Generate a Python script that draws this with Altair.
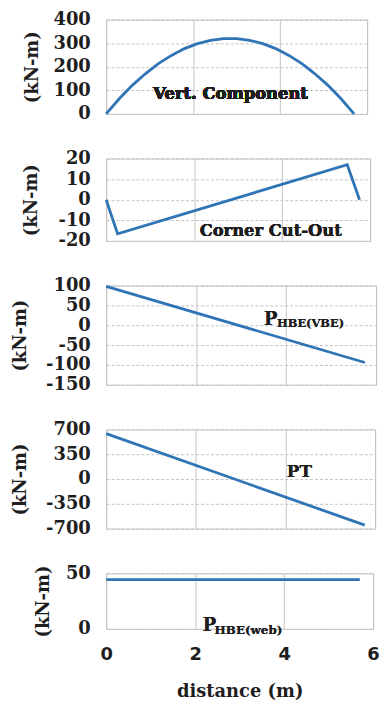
import altair as alt
import pandas as pd

# ---------------- data ----------------
vert_x = [0, 0.3, 0.6, 0.9, 1.2, 1.5, 1.8, 2.1, 2.4, 2.7, 3.0, 3.3, 3.6, 3.9, 4.2, 4.5, 4.8, 5.1, 5.4, 5.7]
vert_y = [0, 64, 121, 170, 213, 248, 277, 298, 312, 319, 319, 312, 298, 277, 248, 213, 170, 121, 64, 0]

corner_x = [0, 0.26, 5.48, 5.76]
corner_y = [0, -16.6, 17.0, 0]

vbe_x = [0, 5.75]
vbe_y = [98, -94]

pt_x = [0, 5.77]
pt_y = [640, -650]

web_x = [0, 5.7]
web_y = [44.4, 44.4]

x_ticks = [0, 2, 4, 6]
y_ticks_1 = [0, 100, 200, 300, 400]
y_ticks_2 = [-20, -10, 0, 10, 20]
y_ticks_3 = [-150, -100, -50, 0, 50, 100]
y_ticks_4 = [-700, -350, 0, 350, 700]
y_ticks_5 = [0, 50]

SERIF = "DejaVu Serif"
SANS = "DejaVu Sans"
BLUE = "#2f74b5"
TXT = "#1e1e1e"
GRID = "#c4c4c4"

HYPHEN_LABEL = "datum.value < 0 ? '-' + abs(datum.value) : '' + datum.value"


def panel(xs, ys, ydom, yvals, width, height, title_x, show_x, notes):
    df = pd.DataFrame({"x": xs, "y": ys})
    xaxis_kw = dict(
        values=x_ticks, grid=True, gridColor=GRID, gridWidth=1,
        ticks=False, domain=False, labelFlush=False, labelOverlap=False,
    )
    if show_x:
        xaxis_kw.update(
            labels=True, title="distance (m)", labelFont=SANS, labelFontSize=18,
            labelFontWeight="bold", labelColor=TXT, labelPadding=17,
            titleFont=SERIF, titleFontSize=18, titleFontWeight="bold",
            titleColor=TXT, titlePadding=19,
        )
    else:
        xaxis_kw.update(labels=False, title="")
    xaxis = alt.Axis(**xaxis_kw)
    yaxis = alt.Axis(
        values=yvals, grid=True, gridColor=GRID, gridDash=[3, 2], gridWidth=1,
        ticks=False, domain=False, labelOverlap=False, labelFlush=False,
        labelFont=SERIF, labelFontSize=18, labelFontWeight="bold",
        labelColor=TXT, labelPadding=16, labelExpr=HYPHEN_LABEL,
        title="(kN-m)", titleFont=SERIF, titleFontSize=18,
        titleFontWeight="bold", titleColor=TXT, titleAngle=270,
        titleX=title_x, titleY=height / 2, titleAlign="center",
        titleBaseline="middle",
    )
    xscale = alt.Scale(domain=[0, 6], nice=False, zero=False)
    yscale = alt.Scale(domain=ydom, nice=False, zero=False)
    line = alt.Chart(df).mark_line(color=BLUE, strokeWidth=2.8).encode(
        x=alt.X("x:Q", scale=xscale, axis=xaxis),
        y=alt.Y("y:Q", scale=yscale, axis=yaxis),
    )
    layers = [line]
    for (tx, ty, txt, size, align, dx, dy) in notes:
        layers.append(
            alt.Chart(df).mark_text(
                text=txt, font=SERIF, fontSize=size, fontWeight="bold",
                color=TXT, align=align, baseline="alphabetic", dx=dx, dy=dy,
            ).encode(
                x=alt.XDatum(tx, type="quantitative", scale=xscale, axis=xaxis),
                y=alt.YDatum(ty, type="quantitative", scale=yscale, axis=yaxis),
            )
        )
    return alt.layer(*layers).properties(width=width, height=height)


p1 = panel(vert_x, vert_y, [0, 400], y_ticks_1, 263, 95, -74, False,
           [(2.86, 64, "Vert. Component", 16.5, "center", 0, 0)])
p2 = panel(corner_x, corner_y, [-20, 20], y_ticks_2, 266, 83, -75, False,
           [(3.74, -17.6, "Corner Cut-Out", 16.5, "center", 0, 0)])
p3 = panel(vbe_x, vbe_y, [-150, 100], y_ticks_3, 272, 100, -86, False,
           [(3.51, 0, "P", 18, "left", 0, 0),
            (3.51, 0, "HBE(VBE)", 11.5, "left", 13, 2)])
p4 = panel(pt_x, pt_y, [-700, 700], y_ticks_4, 271, 100, -86, False,
           [(4.03, 25, "PT", 17, "left", 0, 0)])
p5 = panel(web_x, web_y, [0, 50], y_ticks_5, 269, 56, -63, True,
           [(2.17, -1.8, "P", 18, "left", 0, 0),
            (2.17, -1.8, "HBE(web)", 12, "left", 12, 3)])

chart = alt.vconcat(p1, p2, p3, p4, p5, spacing=45, bounds="flush").properties(
    padding={"left": 11, "top": 7, "right": 5, "bottom": 5},
    background="white",
).configure_view(
    stroke=GRID, strokeWidth=1
).configure_axis(
    labelOverlap=False, labelFlush=False
)

chart.save("out.html", embed_options={"renderer": "svg", "actions": False})
